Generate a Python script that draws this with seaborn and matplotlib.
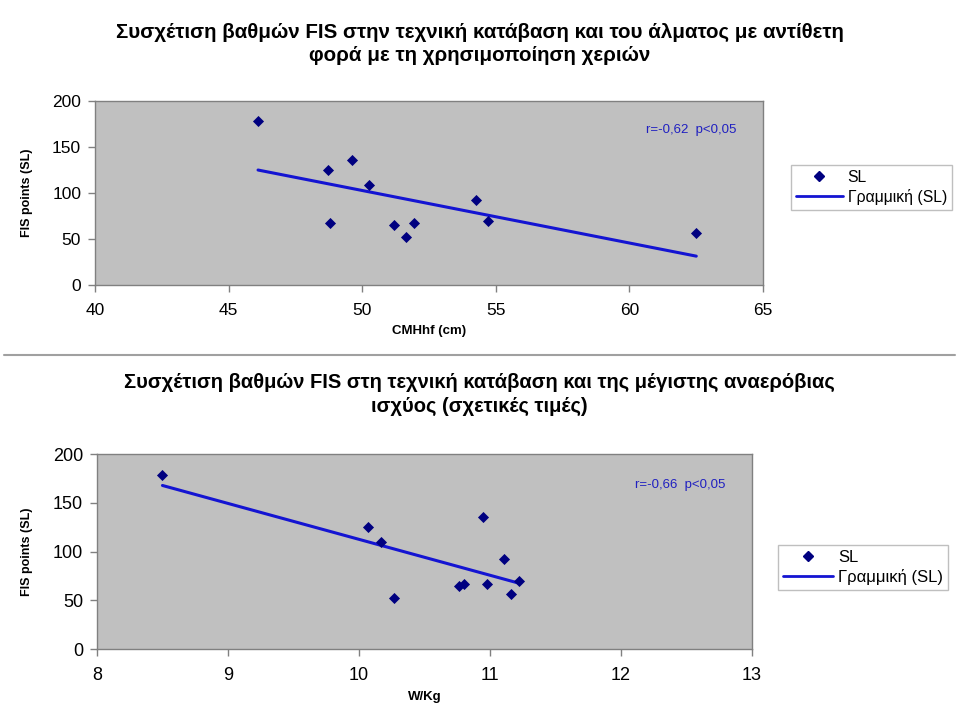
import numpy as np
import pandas as pd
import seaborn as sns
from matplotlib import pyplot as plt
from matplotlib.lines import Line2D

# top chart: CMJ hands-free height vs FIS points (SL)
cmj_cm = [46.1, 48.7, 48.8, 49.6, 50.25, 51.2, 51.65, 51.95, 54.25, 54.7, 62.5]
cmj_fis = [178, 125, 67, 136, 109, 65, 52, 67, 92, 70, 56]

# bottom chart: relative max anaerobic power vs FIS points (SL)
wkg = [8.5, 10.07, 10.17, 10.27, 10.76, 10.8, 10.95, 10.98, 11.11, 11.16, 11.22]
wkg_fis = [178, 125, 110, 52, 65, 67, 135, 67, 92, 56, 70]

title_top = "Συσχέτιση βαθμών FIS στην τεχνική κατάβαση και του άλματος με αντίθετη\nφορά με τη χρησιμοποίηση χεριών"
title_bot = "Συσχέτιση βαθμών FIS στη τεχνική κατάβαση και της μέγιστης αναερόβιας\nισχύος (σχετικές τιμές)"
ylabel = "FIS points (SL)"
yticks = [0, 50, 100, 150, 200]

sns.set_style("white")
plt.rcParams['font.family'] = ['Liberation Sans', 'DejaVu Sans']
plt.rcParams['text.color'] = 'black'
plt.rcParams['axes.labelcolor'] = 'black'
plt.rcParams['xtick.color'] = 'black'
plt.rcParams['ytick.color'] = 'black'

NAVY = "#000080"
BLUE = "#1414d2"
GRID = "#808080"


def draw_panel(ax, x, y, xlim, xticks, xlabel, rtext, tick_fs, leg_fs, leg_anchor):
    df = pd.DataFrame({"x": x, "y": y})
    ax.set_facecolor("#c0c0c0")
    sns.scatterplot(data=df, x="x", y="y", marker="D", color=NAVY, s=32,
                    edgecolor=NAVY, linewidth=0, ax=ax, zorder=3)
    coef = np.polyfit(df["x"], df["y"], 1)
    fit = np.poly1d(coef)
    xs = np.array([df["x"].min(), df["x"].max()])
    sns.lineplot(x=xs, y=fit(xs), color=BLUE, linewidth=2.2, ax=ax, zorder=2)
    ax.set_xlim(*xlim)
    ax.set_ylim(0, 200)
    ax.set_xticks(xticks)
    ax.set_yticks(yticks)
    ax.tick_params(axis="both", direction="out", length=5, width=1, color=GRID,
                   labelsize=tick_fs, labelcolor="black", left=True, bottom=True)
    ax.tick_params(axis="x", pad=8)
    ax.tick_params(axis="y", pad=5)
    for sp in ax.spines.values():
        sp.set_color(GRID)
        sp.set_linewidth(1)
    ax.set_xlabel(xlabel, fontsize=9.5, fontweight="bold", labelpad=5)
    ax.set_ylabel(ylabel, fontsize=9, fontweight="bold", labelpad=14)
    ax.text(0.96, 0.84, rtext, transform=ax.transAxes, ha="right", va="center",
            color="#2020c0", fontsize=9.5)
    handles = [Line2D([], [], marker="D", color=NAVY, linestyle="none", markersize=5),
               Line2D([], [], color=BLUE, linewidth=2)]
    leg = ax.legend(handles, ["SL", "Γραμμική (SL)"], loc="center left",
                    bbox_to_anchor=leg_anchor, frameon=True, fancybox=False,
                    edgecolor="#b0b0b0", fontsize=leg_fs, handlelength=3.0,
                    handletextpad=0.3, borderpad=0.3, labelspacing=0.25,
                    borderaxespad=0)
    leg.get_frame().set_linewidth(1)


fig = plt.figure(figsize=(9.59, 7.08), dpi=100)
fig.patch.set_facecolor("white")

ax1 = fig.add_axes([0.0991, 0.5975, 0.6966, 0.2599])
draw_panel(ax1, cmj_cm, cmj_fis, (40, 65), [40, 45, 50, 55, 60, 65], "CMHhf (cm)",
           "r=-0,62  p<0,05", 12.5, 11.3, (1.042, 0.53))

ax2 = fig.add_axes([0.1011, 0.0833, 0.683, 0.2754])
draw_panel(ax2, wkg, wkg_fis, (8, 13), [8, 9, 10, 11, 12, 13], "W/Kg",
           "r=-0,66  p<0,05", 13, 12, (1.04, 0.42))

fig.text(0.5, 0.938, title_top, ha="center", va="center", fontsize=14.8,
         fontweight="bold", linespacing=1.3)
fig.text(0.5, 0.443, title_bot, ha="center", va="center", fontsize=14.5,
         fontweight="bold", linespacing=1.3)
fig.add_artist(Line2D([0.004, 0.996], [1 - 355 / 708, 1 - 355 / 708],
                      color="#a0a0a0", linewidth=1.5, transform=fig.transFigure))

fig.savefig("out.png", dpi=100)
